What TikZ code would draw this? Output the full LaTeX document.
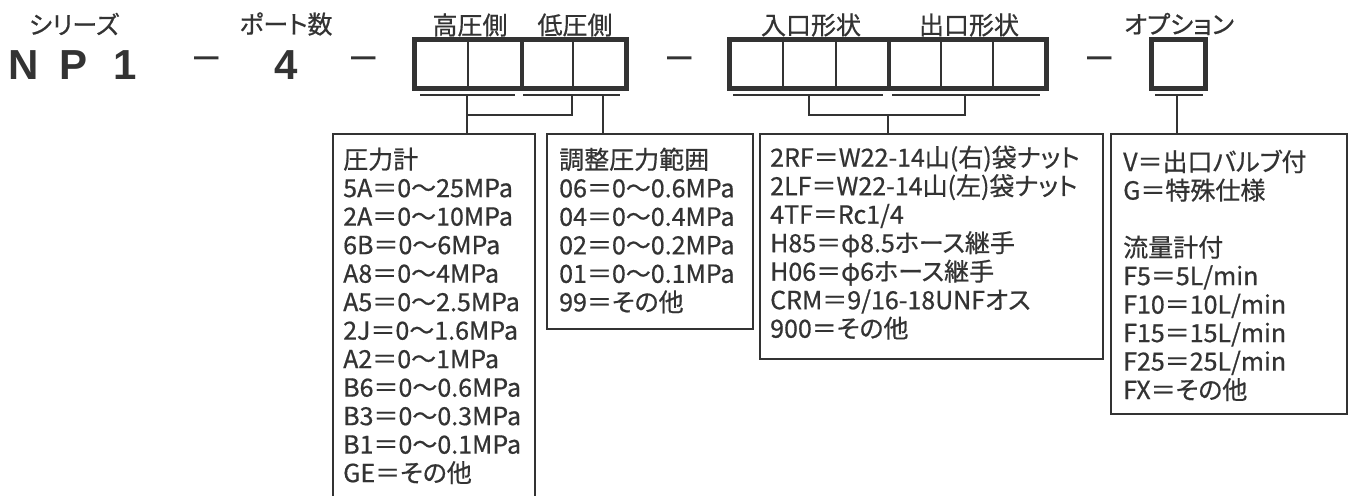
\documentclass[tikz,border=0pt]{standalone}
\usepackage{fontspec}
\setmainfont{Noto Sans CJK JP}[RawFeature=+palt, FakeBold=0.6]
\newfontfamily\codefont{Liberation Sans}
\usetikzlibrary{positioning}
\definecolor{ink}{HTML}{333333}

\tikzset{
  cell/.style={draw=ink, line width=2pt, minimum width=52.5pt, minimum height=47pt, inner sep=0pt},
  listbox/.style={draw=ink, line width=1.8pt, anchor=north west, inner sep=0pt},
  listtext/.style={anchor=north west, inner sep=0pt, align=left, text=ink, font=\fontsize{25}{28.5}\selectfont},
  heading/.style={text=ink, inner sep=0pt, font=\fontsize{25}{29}\selectfont},
  code/.style={text=ink, inner sep=0pt, font=\codefont\bfseries\fontsize{42}{42}\selectfont},
  sep/.style={text=ink, inner sep=0pt, font=\codefont\fontsize{44}{44}\selectfont},
  bar/.style={draw=ink, line width=2pt},
}

\begin{document}
\begin{tikzpicture}[x=1pt,y=-1pt]
\useasboundingbox[fill=white] (0,0) rectangle (1348,495);

% Draw headings
\node[heading] (series) at (74,24) {シリーズ};
\node[heading] (ports) at (286,24) {ポート数};
\node[heading] (high) at (470,25) {高圧側};
\node[heading] (low) at (575,25) {低圧側};
\node[heading] (inlet) at (811,25) {入口形状};
\node[heading] (outlet) at (969,25) {出口形状};
\node[heading] (opt) at (1179,24) {オプション};

% Draw model code
\node[code] (n) at (23.5,65) {N};
\node[code] (p) at (74,65) {P};
\node[code] (one) at (125,65) {1};
\node[code] (four) at (286,65) {4};
\node[sep] (sepa) at (207,63) {–};
\node[sep] (sepb) at (364,63) {–};
\node[sep] (sepc) at (680,63) {–};
\node[sep] (sepd) at (1100,63) {–};

% Draw gauge cells
\node[cell] (h1) at (441.75,64) {};
\node[cell] (h2) at (494.25,64) {};
\node[cell] (l1) at (546.75,64) {};
\node[cell] (l2) at (599.25,64) {};
\draw[ink, line width=4pt] (h2.north east) -- (h2.south east);
\draw[ink, line width=5pt] (h1.north west) rectangle (l2.south east);

% Draw port cells
\node[cell] (i1) at (756.75,64) {};
\node[cell] (i2) at (809.25,64) {};
\node[cell] (i3) at (861.75,64) {};
\node[cell] (o1) at (914.25,64) {};
\node[cell] (o2) at (966.75,64) {};
\node[cell] (o3) at (1019.25,64) {};
\draw[ink, line width=4pt] (i3.north east) -- (i3.south east);
\draw[ink, line width=5pt] (i1.north west) rectangle (o3.south east);

% Draw option cell
\node[cell, minimum width=52pt] (x1) at (1178.5,64) {};
\draw[ink, line width=5pt] (x1.north west) rectangle (x1.south east);

% Draw list boxes
\node[listbox, minimum width=202pt, minimum height=370pt] (gauge) at (332,133) {};
\node[listbox, minimum width=206pt, minimum height=195pt] (range) at (546,133) {};
\node[listbox, minimum width=343pt, minimum height=225pt] (port) at (759,133) {};
\node[listbox, minimum width=236pt, minimum height=280pt] (option) at (1110,133) {};

\node[listtext] (gaugetext) at (343,147.5) {圧力計\\5A＝0～25MPa\\2A＝0～10MPa\\6B＝0～6MPa\\A8＝0～4MPa\\A5＝0～2.5MPa\\2J＝0～1.6MPa\\A2＝0～1MPa\\B6＝0～0.6MPa\\B3＝0～0.3MPa\\B1＝0～0.1MPa\\GE＝その他};
\node[listtext] (rangetext) at (559,147.5) {調整圧力範囲\\06＝0～0.6MPa\\04＝0～0.4MPa\\02＝0～0.2MPa\\01＝0～0.1MPa\\99＝その他};
\node[listtext] (porttext) at (770,145.5) {2RF＝W22-14山(右)袋ナット\\2LF＝W22-14山(左)袋ナット\\4TF＝Rc1/4\\H85＝φ8.5ホース継手\\H06＝φ6ホース継手\\CRM＝9/16-18UNFオス\\900＝その他};
\node[listtext] (opttext) at (1123,149.5) {V＝出口バルブ付\\G＝特殊仕様\\[28.5pt]流量計付\\F5＝5L/min\\F10＝10L/min\\F15＝15L/min\\F25＝25L/min\\FX＝その他};

% Draw underlines
\draw[bar] (420,95) coordinate (hpL) -- (515,95) coordinate (hpR);
\draw[bar] (523,95) coordinate (lpL) -- (620,95) coordinate (lpR);
\draw[bar] (733,95) coordinate (inL) -- (883,95) coordinate (inR);
\draw[bar] (892,95) coordinate (outL) -- (1040,95) coordinate (outR);
\draw[bar] (1155,95) coordinate (optL) -- (1203,95) coordinate (optR);

% Draw connectors
\coordinate (hpdrop) at (467,95);
\coordinate (lpdrop) at (572,95);
\coordinate (lpdropb) at (603,95);
\coordinate (gjoin) at (467,115);
\draw[bar] (hpdrop) -- (hpdrop |- gauge.north);
\draw[bar] (lpdrop) |- (gjoin);
\draw[bar] (lpdropb) -- (lpdropb |- range.north);

\coordinate (indrop) at (809,95);
\coordinate (outdrop) at (965,95);
\coordinate (pjoin) at (888,115);
\draw[bar] (indrop) |- (pjoin) -| (outdrop);
\draw[bar] (pjoin) -- (pjoin |- port.north);

\coordinate (optdrop) at (1177,95);
\draw[bar] (optdrop) -- (optdrop |- option.north);

\end{tikzpicture}
\end{document}
